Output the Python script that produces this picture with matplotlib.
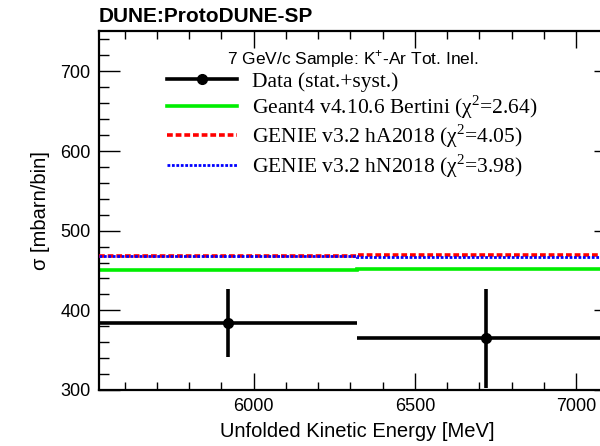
import matplotlib
matplotlib.use('Agg')
import matplotlib.pyplot as plt
from matplotlib.lines import Line2D
import numpy as np

# K+-Ar total inelastic cross section, 7 GeV/c sample
bin_edges = [5520, 6320, 7120]
data_x = [5920, 6720]
data_y = [384, 365]
data_yerr = [43, 62]

g4_bertini = [450.5, 452]
genie_ha = [468, 470]
genie_hn = [468, 467.5]

chi2_g4, chi2_ha, chi2_hn = 2.64, 4.05, 3.98

serif = 'Liberation Serif'
sans = 'Liberation Sans'
plt.rcParams['mathtext.fontset'] = 'custom'
plt.rcParams['mathtext.rm'] = serif
plt.rcParams['mathtext.sf'] = sans

fig = plt.figure(figsize=(6.0, 4.46), dpi=100)
ax = fig.add_axes([98.8 / 600, 56 / 446, (615 - 98.8) / 600, (390 - 31.5) / 446])

green_style = dict(color='#00ee00', lw=2.6)
red_style = dict(color='red', lw=2.6, ls=(0, (1.6, 0.8)))
blue_style = dict(color='blue', lw=2.0, ls=(0, (1, 0.6)))

# MC predictions drawn as histograms
ax.stairs(g4_bertini, bin_edges, baseline=None, zorder=2, **green_style)
ax.stairs(genie_ha, bin_edges, baseline=None, zorder=3, **red_style)
ax.stairs(genie_hn, bin_edges, baseline=None, zorder=4, **blue_style)

# unfolded data with bin-width x errors
xlo = [data_x[i] - bin_edges[i] for i in range(2)]
xhi = [bin_edges[i + 1] - data_x[i] for i in range(2)]
ax.errorbar(data_x, data_y, xerr=[xlo, xhi], yerr=data_yerr, fmt='o',
            color='black', ms=7, elinewidth=2.6, capsize=0, zorder=5)

ax.set_xlim(bin_edges[0], bin_edges[-1])
ax.set_ylim(300, 750)
ax.set_xticks([6000, 6500, 7000])
ax.set_xticks(np.arange(5600, 7101, 100), minor=True)
ax.set_yticks([300, 400, 500, 600, 700])
ax.set_yticks(np.arange(300, 751, 20), minor=True)
ax.tick_params(which='both', direction='in', top=True, right=True,
               labelsize=13, width=1, pad=6)
ax.tick_params(axis='y', which='major', length=15)
ax.tick_params(axis='y', which='minor', length=7.5)
ax.tick_params(axis='x', which='major', length=12)
ax.tick_params(axis='x', which='minor', length=6)
for lab in ax.get_xticklabels() + ax.get_yticklabels():
    lab.set_family(sans)
for s in ax.spines.values():
    s.set_linewidth(1.6)

ax.set_xlabel('Unfolded Kinetic Energy [MeV]', fontsize=14.5, family=sans, labelpad=5)
ax.set_ylabel('σ [mbarn/bin]', fontsize=14.5, family=sans, labelpad=7)

fig.text(99 / 600, 1 - 17 / 446, 'DUNE:ProtoDUNE-SP', fontsize=15, family=sans,
         fontweight='bold', va='center', ha='left')

handles = [
    Line2D([], [], color='black', lw=2.6, marker='o', ms=7),
    Line2D([], [], **green_style),
    Line2D([], [], **red_style),
    Line2D([], [], **blue_style),
]
labels = [
    'Data (stat.+syst.)',
    f'Geant4 v4.10.6 Bertini (χ$^{{2}}$={chi2_g4:.2f})',
    f'GENIE v3.2 hA2018 (χ$^{{2}}$={chi2_ha:.2f})',
    f'GENIE v3.2 hN2018 (χ$^{{2}}$={chi2_hn:.2f})',
]
leg = ax.legend(handles, labels, loc='upper left', frameon=False, numpoints=1,
                bbox_to_anchor=(152 / 600, 1 - 33 / 446), bbox_transform=fig.transFigure,
                prop={'family': serif, 'size': 15.5}, handlelength=3.25,
                handletextpad=0.7, labelspacing=0.08, borderpad=0.2,
                title='7 GeV/c Sample: K$^{\\mathsf{+}}$-Ar Tot. Inel.',
                title_fontproperties={'family': sans, 'size': 12.5})

fig.savefig('out.png', dpi=100)
